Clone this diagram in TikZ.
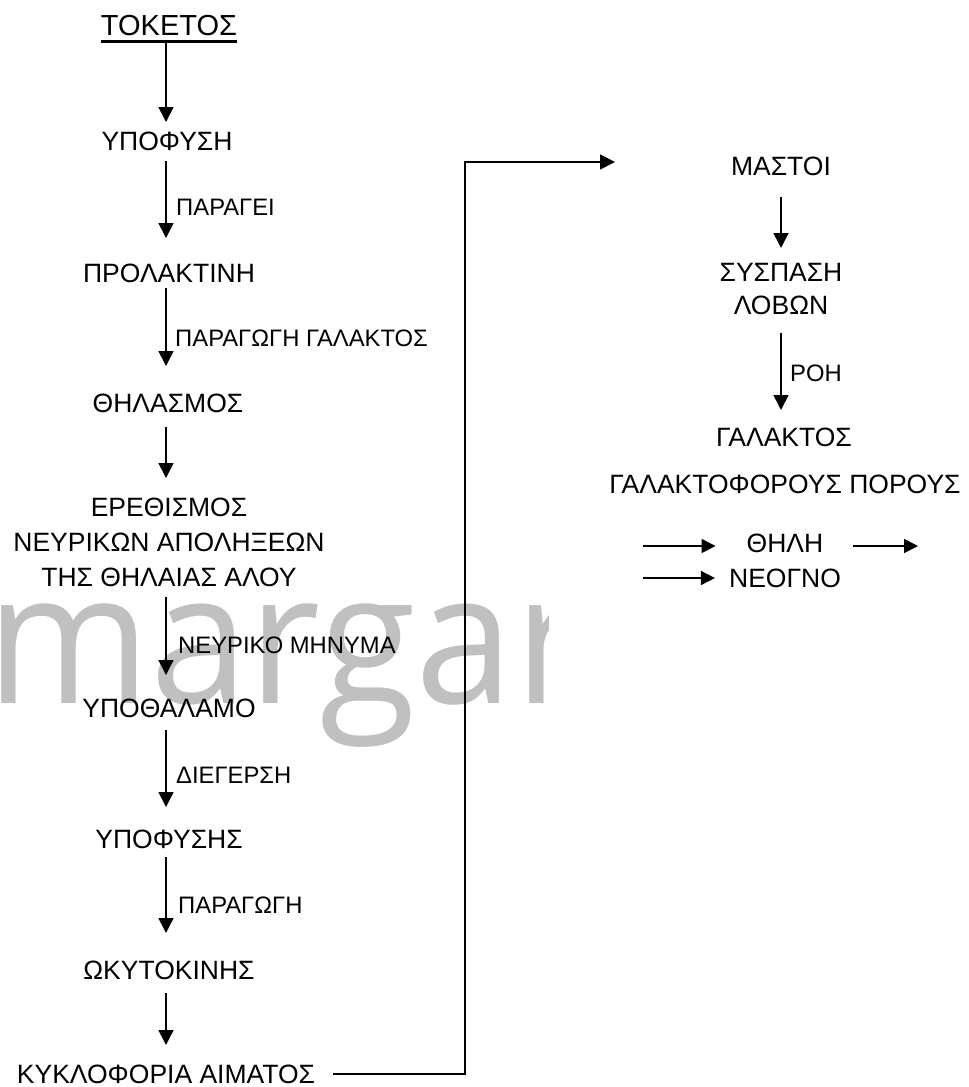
\documentclass[tikz,border=0pt]{standalone}
\usepackage{fontspec}
\setmainfont{Liberation Sans}
\newfontfamily\wmfont{Open Sans}
\usetikzlibrary{arrows.meta,calc}
\definecolor{wmgray}{RGB}{192,192,192}
\begin{document}
\begin{tikzpicture}[x=1pt,y=-1pt,
  txt/.style={inner sep=0pt, font=\fontsize{26.5}{35}\selectfont, align=center},
  lbl/.style={inner sep=0pt, font=\fontsize{23.8}{28}\selectfont, anchor=base west},
  arr/.style={line width=1.6pt, -{Triangle[width=15pt,length=15pt]}},
  harr/.style={line width=1.6pt, -{Triangle[width=14pt,length=14pt]}},
]
\useasboundingbox (0,0) rectangle (969,1087);
% watermark
\begin{scope}
\clip (0,0) rectangle (548,1087);
\node[anchor=base west, inner sep=0pt, text=wmgray, font=\wmfont\fontsize{183}{183}\selectfont] (wm) at (-14,703) {\scalebox{0.965}[1]{margar}};
\end{scope}
\coordinate (cx) at (166,0);
\coordinate (rx) at (781,0);
% left column
\node[txt, anchor=base, font=\fontsize{29}{35}\selectfont] (tok) at (169,35) {ΤΟΚΕΤΟΣ};
\draw[line width=3pt] ($(tok.base west)+(0,6)$) -- ($(tok.base east)+(0,6)$);
\node[txt, anchor=base] (ypof) at (167,150) {ΥΠΟΦΥΣΗ};
\node[txt, anchor=base] (prol) at (169,282) {ΠΡΟΛΑΚΤΙΝΗ};
\node[txt, anchor=base] (thil) at (168,412) {ΘΗΛΑΣΜΟΣ};
\node[txt, anchor=north] (ereth) at (169,498) {ΕΡΕΘΙΣΜΟΣ\\ΝΕΥΡΙΚΩΝ ΑΠΟΛΗΞΕΩΝ\\ΤΗΣ ΘΗΛΑΙΑΣ ΑΛΟΥ};
\node[txt, anchor=base] (ypoth) at (169,717) {ΥΠΟΘΑΛΑΜΟ};
\node[txt, anchor=base] (ypofs) at (169,848) {ΥΠΟΦΥΣΗΣ};
\node[txt, anchor=base] (okyt) at (169,979) {ΩΚΥΤΟΚΙΝΗΣ};
\node[txt, anchor=base] (kykl) at (166,1083) {ΚΥΚΛΟΦΟΡΙΑ ΑΙΜΑΤΟΣ};
% labels
\node[lbl] (l1) at (176,215) {ΠΑΡΑΓΕΙ};
\node[lbl] (l2) at (175,346) {ΠΑΡΑΓΩΓΗ ΓΑΛΑΚΤΟΣ};
\node[lbl] (l3) at (178,653) {ΝΕΥΡΙΚΟ ΜΗΝΥΜΑ};
\node[lbl] (l4) at (176,783) {ΔΙΕΓΕΡΣΗ};
\node[lbl] (l5) at (178,913) {ΠΑΡΑΓΩΓΗ};
% left arrows
\draw[arr] ($(tok.base -| cx)+(0,8)$) -- ($(ypof.base -| cx)+(0,-28)$);
\draw[arr] ($(ypof.base -| cx)+(0,11)$) -- ($(prol.base -| cx)+(0,-44)$);
\draw[arr] ($(prol.base -| cx)+(0,6)$) -- ($(thil.base -| cx)+(0,-46)$);
\draw[arr] ($(thil.base -| cx)+(0,15)$) -- ($(ereth.north -| cx)+(0,-20)$);
\draw[arr] ($(ereth.south -| cx)+(0,10)$) -- ($(ypoth.base -| cx)+(0,-42)$);
\draw[arr] ($(ypoth.base -| cx)+(0,13)$) -- ($(ypofs.base -| cx)+(0,-41)$);
\draw[arr] ($(ypofs.base -| cx)+(0,9)$) -- ($(okyt.base -| cx)+(0,-46)$);
\draw[arr] ($(okyt.base -| cx)+(0,14)$) -- ($(kykl.base -| cx)+(0,-38)$);
% connector to right column
\coordinate (bend) at (465,162);
\coordinate (tipm) at (615,162);
\draw[arr] ([xshift=18pt]kykl.east) -| (bend) -- (tipm);
% right column
\node[txt, anchor=base] (mast) at (781,175) {ΜΑΣΤΟΙ};
\node[txt, anchor=north, font=\fontsize{26.5}{33}\selectfont] (sysp) at (781,263) {ΣΥΣΠΑΣΗ\\ΛΟΒΩΝ};
\node[txt, anchor=base] (gal) at (784,446) {ΓΑΛΑΚΤΟΣ};
\node[lbl] (l6) at (790,381) {ΡΟΗ};
\draw[arr] ($(mast.base -| rx)+(0,22)$) -- ($(sysp.north -| rx)+(0,-15)$);
\draw[arr] ($(sysp.south -| rx)+(0,18)$) -- ($(gal.base -| rx)+(0,-36)$);
\node[txt, anchor=base] (gpor) at (785,493) {ΓΑΛΑΚΤΟΦΟΡΟΥΣ ΠΟΡΟΥΣ};
\node[txt, anchor=base] (thili) at (785,552) {ΘΗΛΗ};
\node[txt, anchor=base] (neo) at (785,587) {ΝΕΟΓΝΟ};
\coordinate (r2s) at (643,546);
\coordinate (r2e) at (918,546);
\coordinate (r3s) at (643,578);
\draw[harr] (r2s) -- ($(thili.west |- r2s)+(-31,0)$);
\draw[harr] ($(thili.east |- r2s)+(29,0)$) -- (r2e);
\draw[harr] (r3s) -- ($(neo.west |- r3s)+(-14,0)$);
\end{tikzpicture}
\end{document}
